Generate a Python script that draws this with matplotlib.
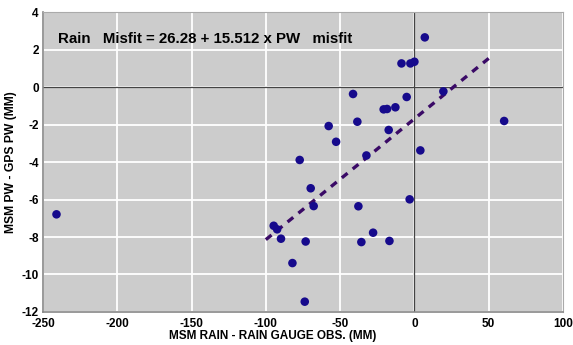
import numpy as np
import matplotlib
matplotlib.use('Agg')
import matplotlib.pyplot as plt

# rain misfit (mm) vs PW misfit (mm)
rain_misfit = [7, -8.7, -2.7, 0.0, -41.3, -5.2, 19.5, -20.7, -18.4, -12.8,
               60.4, -38.4, -57.7, -52.7, -17.3, -32.3, 4.0, -77.2,
               -69.8, -67.8, -37.7, -3.2, -89.8, -73.2, -35.7, -27.8, -16.8,
               -82.1, -73.8, -240.9, -94.7, -92.4]
pw_misfit = [2.65, 1.26, 1.26, 1.35, -0.37, -0.53, -0.23, -1.19, -1.17, -1.08,
             -1.81, -1.85, -2.08, -2.92, -2.29, -3.65, -3.38, -3.89,
             -5.40, -6.35, -6.36, -5.99, -8.09, -8.24, -8.27, -7.77, -8.21,
             -9.39, -11.45, -6.79, -7.40, -7.59]

# fit: Misfit = 26.28 + 15.512 x PW
fit_a = 26.28
fit_b = 15.512
fit_x = np.array([-100, 50])
fit_y = (fit_x - fit_a) / fit_b

plt.rcParams['font.family'] = ['Liberation Sans', 'DejaVu Sans']
plt.rcParams['font.weight'] = 'bold'
plt.rcParams['axes.unicode_minus'] = False

fig = plt.figure(figsize=(5.73, 3.45), dpi=100)
ax = fig.add_axes([0.075, 0.0957, 0.9075, 0.8693])
ax.set_facecolor('#cccccc')

ax.set_xlim(-250, 100)
ax.set_ylim(-12, 4)
ax.set_xticks(np.arange(-250, 101, 50))
ax.set_yticks(np.arange(-12, 5, 2))
ax.grid(True, color='white', linewidth=1.3)
ax.set_axisbelow(True)
ax.axhline(0, color='#444444', linewidth=0.9, zorder=1)
ax.axvline(0, color='#444444', linewidth=0.9, zorder=1)

ax.plot(fit_x, fit_y, color='#3a0a66', linewidth=2.4, linestyle=(0, (2.2, 2.0)), zorder=2)
ax.scatter(rain_misfit, pw_misfit, s=38, color='#160a8c', edgecolors='none', zorder=3)

ax.text(-240, 2.55, 'Rain   Misfit = 26.28 + 15.512 x PW   misfit', fontsize=10.8,
        fontweight='bold', va='center', ha='left')

ax.set_xlabel('MSM RAIN - RAIN GAUGE OBS. (MM)', fontsize=8.5, fontweight='bold', labelpad=1)
ax.xaxis.set_label_coords(0.442, -0.06)
ax.set_ylabel('MSM PW - GPS PW (MM)', fontsize=8.7, fontweight='bold', labelpad=3)
ax.tick_params(length=0, labelsize=8.5, pad=3)
ax.tick_params(axis='x', pad=4)
for lab in ax.get_xticklabels() + ax.get_yticklabels():
    lab.set_fontweight('bold')

for side in ['left', 'bottom']:
    ax.spines[side].set_color('#888888')
    ax.spines[side].set_linewidth(1.2)
for side in ['top', 'right']:
    ax.spines[side].set_color('#aaaaaa')
    ax.spines[side].set_linewidth(0.8)

fig.savefig('out.png', dpi=100)
